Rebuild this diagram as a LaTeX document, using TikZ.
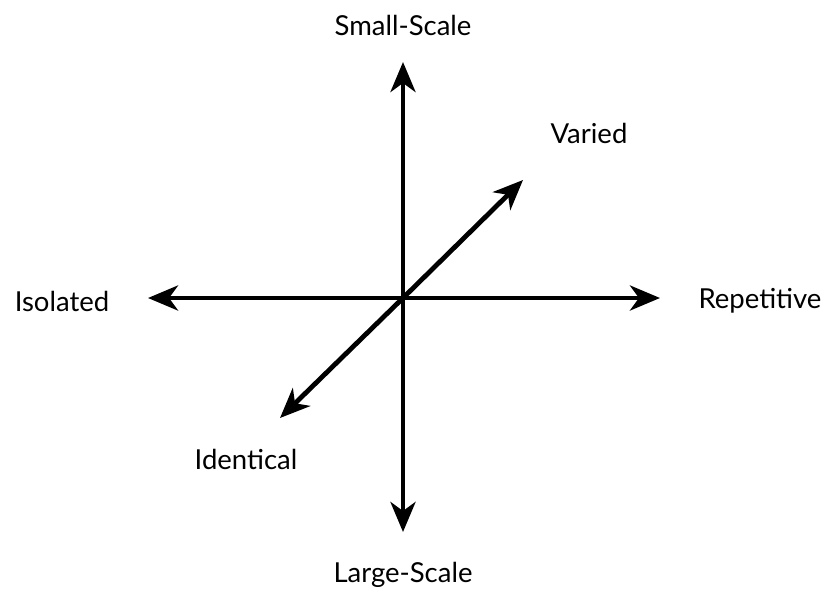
\documentclass[tikz,border=0pt]{standalone}
\usepackage{fontspec}
\setmainfont{Lato}
\usetikzlibrary{arrows.meta}
\begin{document}
\begin{tikzpicture}[x=1pt,y=-1pt,
  axis/.style={line width=4.8pt,-{Stealth[length=30pt,width=25pt,inset=9pt]}},
  lbl/.style={font=\fontsize{27.5}{32}\selectfont,inner sep=0pt}]
\useasboundingbox (0,0) rectangle (828,595);
\coordinate (c) at (403,298);
\coordinate (top) at (403,62);
\coordinate (bot) at (403,532);
\coordinate (lft) at (148,298);
\coordinate (rgt) at (660,298);
\coordinate (ur) at (523,180);
\coordinate (dl) at (280,418);
\draw[axis] (c) -- (top);
\draw[axis] (c) -- (bot);
\draw[axis] (c) -- (lft);
\draw[axis] (c) -- (rgt);
\draw[axis] (c) -- (ur);
\draw[axis] (c) -- (dl);
\node[lbl] (small) at (403,25) {Small-Scale};
\node[lbl] (large) at (403,575) {Large-Scale};
\node[lbl] (iso) at (62,301) {Isolated};
\node[lbl] (rep) at (760,301) {Repetitive};
\node[lbl] (var) at (589,133) {Varied};
\node[lbl] (ide) at (246,459) {Identical};
\end{tikzpicture}
\end{document}
